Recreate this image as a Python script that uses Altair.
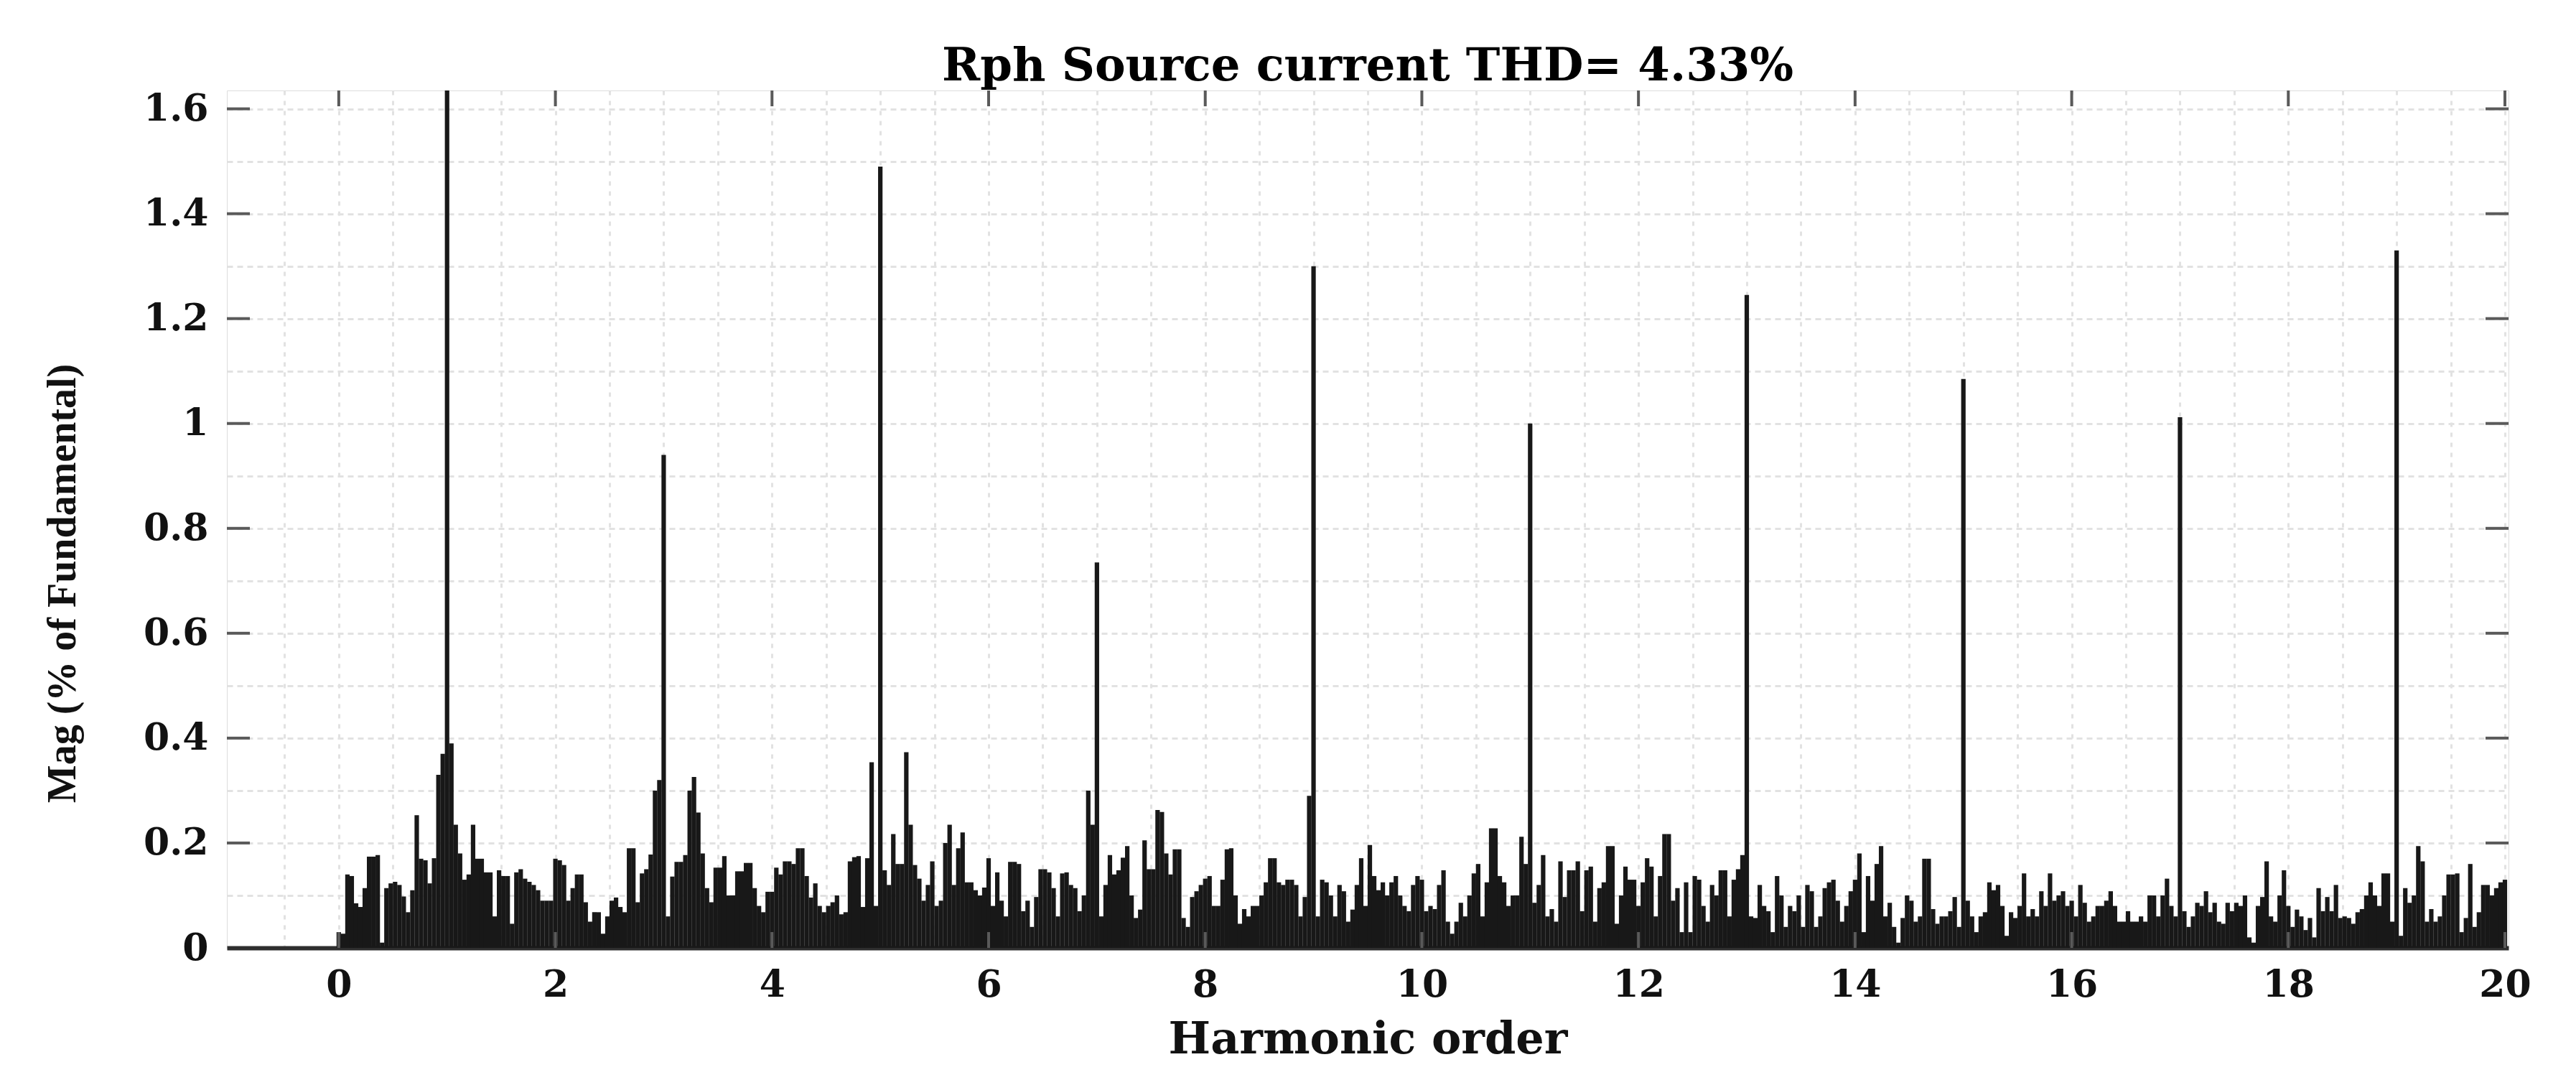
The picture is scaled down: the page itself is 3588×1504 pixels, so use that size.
import altair as alt
import pandas as pd

# Harmonic spectrum, 0.04 harmonic-order resolution; one list per unit interval [n, n+1)
u00 = [0.03, 0.027, 0.14, 0.137, 0.085, 0.078, 0.114, 0.174, 0.174, 0.177, 0.01, 0.114, 0.123, 0.126, 0.12, 0.098, 0.068, 0.11, 0.253, 0.17, 0.167, 0.123, 0.171, 0.33, 0.37]
u01 = [1.64, 0.39, 0.235, 0.18, 0.13, 0.14, 0.235, 0.17, 0.17, 0.144, 0.144, 0.06, 0.148, 0.137, 0.137, 0.046, 0.144, 0.15, 0.132, 0.126, 0.12, 0.11, 0.09, 0.09, 0.09]
u02 = [0.17, 0.167, 0.158, 0.09, 0.114, 0.14, 0.14, 0.087, 0.05, 0.068, 0.068, 0.027, 0.06, 0.09, 0.096, 0.078, 0.068, 0.19, 0.19, 0.087, 0.142, 0.15, 0.178, 0.30, 0.32]
u03 = [0.94, 0.06, 0.136, 0.164, 0.164, 0.177, 0.30, 0.326, 0.258, 0.18, 0.114, 0.087, 0.153, 0.153, 0.175, 0.1, 0.1, 0.146, 0.146, 0.162, 0.162, 0.114, 0.08, 0.068, 0.107]
u04 = [0.107, 0.153, 0.14, 0.165, 0.165, 0.16, 0.19, 0.19, 0.137, 0.096, 0.123, 0.08, 0.068, 0.08, 0.087, 0.1, 0.064, 0.068, 0.165, 0.173, 0.175, 0.078, 0.171, 0.354, 0.08]
u05 = [1.49, 0.148, 0.12, 0.217, 0.16, 0.16, 0.373, 0.235, 0.158, 0.132, 0.09, 0.12, 0.165, 0.08, 0.09, 0.2, 0.235, 0.12, 0.19, 0.22, 0.125, 0.125, 0.11, 0.1, 0.115]
u06 = [0.171, 0.08, 0.144, 0.09, 0.06, 0.164, 0.164, 0.16, 0.07, 0.09, 0.04, 0.097, 0.15, 0.15, 0.144, 0.114, 0.06, 0.142, 0.144, 0.12, 0.114, 0.07, 0.1, 0.3, 0.235]
u07 = [0.735, 0.06, 0.12, 0.177, 0.14, 0.148, 0.172, 0.194, 0.1, 0.057, 0.073, 0.205, 0.15, 0.15, 0.263, 0.259, 0.18, 0.14, 0.188, 0.188, 0.057, 0.04, 0.097, 0.108, 0.12]
u08 = [0.132, 0.137, 0.08, 0.08, 0.13, 0.188, 0.19, 0.1, 0.046, 0.074, 0.06, 0.08, 0.08, 0.1, 0.125, 0.171, 0.171, 0.125, 0.12, 0.13, 0.13, 0.12, 0.06, 0.097, 0.29]
u09 = [1.3, 0.06, 0.13, 0.125, 0.1, 0.06, 0.12, 0.108, 0.05, 0.073, 0.12, 0.171, 0.08, 0.196, 0.137, 0.11, 0.125, 0.1, 0.125, 0.137, 0.1, 0.08, 0.07, 0.12, 0.137]
u10 = [0.13, 0.07, 0.08, 0.074, 0.12, 0.148, 0.05, 0.027, 0.05, 0.086, 0.06, 0.1, 0.142, 0.16, 0.06, 0.125, 0.228, 0.228, 0.137, 0.125, 0.08, 0.1, 0.1, 0.212, 0.16]
u11 = [1.0, 0.086, 0.12, 0.177, 0.06, 0.074, 0.05, 0.165, 0.097, 0.148, 0.148, 0.165, 0.07, 0.148, 0.155, 0.05, 0.114, 0.125, 0.194, 0.194, 0.046, 0.1, 0.155, 0.13, 0.13]
u12 = [0.08, 0.125, 0.171, 0.155, 0.06, 0.137, 0.217, 0.217, 0.09, 0.114, 0.03, 0.125, 0.03, 0.137, 0.13, 0.08, 0.05, 0.12, 0.1, 0.148, 0.148, 0.06, 0.13, 0.15, 0.177]
u13 = [1.245, 0.06, 0.057, 0.12, 0.08, 0.07, 0.03, 0.137, 0.1, 0.04, 0.08, 0.07, 0.1, 0.04, 0.12, 0.108, 0.04, 0.06, 0.114, 0.125, 0.13, 0.09, 0.05, 0.08, 0.108]
u14 = [0.13, 0.18, 0.03, 0.137, 0.09, 0.16, 0.194, 0.06, 0.086, 0.04, 0.01, 0.057, 0.1, 0.09, 0.05, 0.06, 0.17, 0.17, 0.074, 0.046, 0.06, 0.06, 0.07, 0.097, 0.04]
u15 = [1.085, 0.09, 0.06, 0.03, 0.06, 0.068, 0.125, 0.11, 0.12, 0.08, 0.023, 0.068, 0.057, 0.08, 0.142, 0.06, 0.074, 0.06, 0.108, 0.08, 0.142, 0.09, 0.1, 0.108, 0.08]
u16 = [0.09, 0.06, 0.12, 0.086, 0.05, 0.06, 0.08, 0.08, 0.09, 0.108, 0.08, 0.05, 0.05, 0.07, 0.05, 0.05, 0.06, 0.05, 0.1, 0.1, 0.06, 0.1, 0.132, 0.08, 0.06]
u17 = [1.012, 0.07, 0.04, 0.06, 0.086, 0.08, 0.108, 0.068, 0.086, 0.05, 0.046, 0.086, 0.07, 0.086, 0.08, 0.1, 0.02, 0.01, 0.08, 0.097, 0.165, 0.06, 0.05, 0.1, 0.148]
u18 = [0.08, 0.04, 0.073, 0.06, 0.034, 0.057, 0.02, 0.114, 0.07, 0.097, 0.07, 0.12, 0.057, 0.06, 0.057, 0.046, 0.068, 0.074, 0.1, 0.125, 0.1, 0.08, 0.142, 0.142, 0.05]
u19 = [1.33, 0.023, 0.114, 0.086, 0.1, 0.194, 0.165, 0.05, 0.074, 0.05, 0.06, 0.1, 0.14, 0.14, 0.142, 0.03, 0.057, 0.16, 0.04, 0.068, 0.12, 0.12, 0.1, 0.114, 0.125]
u20 = [0.13]

units = [u00, u01, u02, u03, u04, u05, u06, u07, u08, u09,
         u10, u11, u12, u13, u14, u15, u16, u17, u18, u19, u20]
BIN = 0.04

x_tick_values = [0, 2, 4, 6, 8, 10, 12, 14, 16, 18, 20]
y_tick_values = [0.2, 0.4, 0.6, 0.8, 1.0, 1.2, 1.4, 1.6]
x_grid_values = [i * 0.5 for i in range(-1, 41)]
y_grid_values = [round(i * 0.05, 2) for i in range(0, 33)]

TITLE = "Rph Source current THD= 4.33%"
X_TITLE = "Harmonic order"
Y_TITLE = "Mag (% of Fundamental)"

rows = []
for n, vals in enumerate(units):
    for i, v in enumerate(vals):
        rows.append({"h": round(n + i * BIN, 2), "m": v})
spec = pd.DataFrame(rows)

W, H = 3178, 1194
XDOM = [-1, 20]
YDOM = [0, 1.635]

xs = alt.Scale(domain=XDOM, nice=False, zero=False)
ys = alt.Scale(domain=YDOM, nice=False, zero=True)

x_axis = alt.Axis(
    values=x_grid_values,
    labelExpr="datum.value >= 0 && datum.value % 2 == 0 ? format(datum.value, 'd') : ''",
    labelOverlap=False, labelFlush=False,
    ticks=False, tickSize=0, labelPadding=26,
    labelFont="DejaVu Serif", labelFontWeight="bold", labelFontSize=52, labelColor="#111111",
    domain=True, domainColor="#2e2e2e", domainWidth=6,
    grid=True, gridColor="#e2e2e2", gridDash=[6, 8], gridWidth=3,
    title=X_TITLE, titleFont="DejaVu Serif", titleFontWeight="bold", titleFontSize=62,
    titleColor="#111111", titleBaseline="alphabetic", titleY=146, titleX=W / 2,
)
y_axis = alt.Axis(
    values=y_grid_values,
    labelExpr="abs(datum.value * 5 - round(datum.value * 5)) < 0.01 ? format(datum.value, '~g') : ''",
    labelOverlap=False, labelFlush=False,
    ticks=False, tickSize=0, labelPadding=26,
    labelFont="DejaVu Serif", labelFontWeight="bold", labelFontSize=52, labelColor="#111111",
    domain=False,
    grid=True, gridColor="#e2e2e2", gridDash=[8, 6], gridWidth=3,
    title=Y_TITLE, titleFont="Liberation Serif", titleFontWeight="bold", titleFontSize=56,
    titleColor="#111111", titleAngle=270, titleAlign="center", titleBaseline="middle",
    titleX=-229, titleY=686,
)

bars = alt.Chart(spec).mark_bar(size=6.2, color="#181818", clip=True).encode(
    x=alt.X("h:Q", scale=xs, axis=x_axis),
    y=alt.Y("m:Q", scale=ys, axis=y_axis),
)

ydf = pd.DataFrame({"m": y_tick_values})
xdf = pd.DataFrame({"h": x_tick_values})
TICK_COLOR = "#5a5a5a"

left_ticks = alt.Chart(ydf).mark_rule(color=TICK_COLOR, strokeWidth=4).encode(
    y=alt.Y("m:Q"), x=alt.value(0), x2=alt.value(32))
right_ticks = alt.Chart(ydf).mark_rule(color=TICK_COLOR, strokeWidth=4).encode(
    y=alt.Y("m:Q"), x=alt.value(W - 32), x2=alt.value(W))
top_ticks = alt.Chart(xdf).mark_rule(color=TICK_COLOR, strokeWidth=4).encode(
    x=alt.X("h:Q"), y=alt.value(0), y2=alt.value(22))
bottom_ticks = alt.Chart(xdf).mark_rule(color=TICK_COLOR, strokeWidth=4).encode(
    x=alt.X("h:Q"), y=alt.value(H - 22), y2=alt.value(H))

chart = alt.layer(bars, bottom_ticks, left_ticks, right_ticks, top_ticks).properties(
    width=W, height=H,
    title=alt.TitleParams(TITLE, font="DejaVu Serif", fontWeight="bold", fontSize=64,
                          color="#000000", anchor="middle", frame="group",
                          baseline="alphabetic", offset=16, dy=68),
    autosize=alt.AutoSizeParams(type="none"),
    padding={"left": 308, "top": 118, "right": 86, "bottom": 170},
).configure_view(stroke="#777777", strokeWidth=6).configure(background="white")

chart.save("out.html", embed_options={"renderer": "svg", "actions": False})
